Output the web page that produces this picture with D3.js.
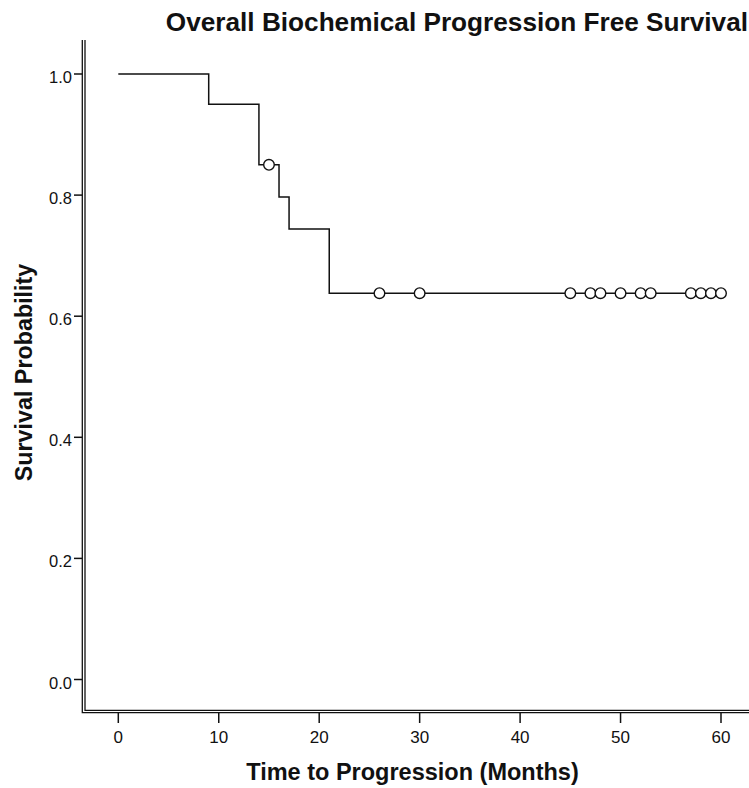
<!DOCTYPE html>
<html>
<head>
<meta charset="utf-8">
<script src="https://cdn.jsdelivr.net/npm/d3@7"></script>
<style>
  body { margin: 0; background: #fff; }
  svg { display: block; font-family: "Liberation Sans", Arial, sans-serif; }
</style>
</head>
<body>
<div id="chart"></div>
<script>
// Kaplan-Meier steps
const stepTimes = [0, 9, 14, 16, 17, 21];
const stepSurv = [1.0, 0.95, 0.85, 0.797, 0.744, 0.638];
const lastTime = 60;
// censored observations (months)
const censorTimes = [15, 26, 30, 45, 47, 48, 50, 52, 53, 57, 58, 59, 60];
const xTicks = [0, 10, 20, 30, 40, 50, 60];
const yTicks = [0.0, 0.2, 0.4, 0.6, 0.8, 1.0];

const width = 749, height = 788;

const svg = d3.select("#chart").append("svg")
    .attr("width", width)
    .attr("height", height);

const x = d3.scaleLinear().domain([0, 60]).range([118.3, 721]);
const y = d3.scaleLinear().domain([0, 1]).range([679.5, 74]);

// survival value at time t (step function)
function survAt(t) {
    const i = d3.bisectRight(stepTimes, t) - 1;
    return stepSurv[Math.max(0, i)];
}

/*----------------------
AXIS FRAME (double lines)
----------------------*/
const frame = svg.append("g").attr("stroke", "#111").attr("stroke-width", 1.3).attr("fill", "none");
frame.append("path").attr("d", "M82.3,40V712.7H749");
frame.append("path").attr("d", "M85,40V710.4H749");

// y ticks
const yAxis = svg.append("g");
yAxis.selectAll("line")
    .data(yTicks)
    .enter()
    .append("line")
    .attr("x1", 74).attr("x2", 82.3)
    .attr("y1", d => y(d)).attr("y2", d => y(d))
    .attr("stroke", "#111").attr("stroke-width", 1.5);
yAxis.selectAll("text")
    .data(yTicks)
    .enter()
    .append("text")
    .attr("x", 72)
    .attr("y", d => y(d) + 9)
    .attr("text-anchor", "end")
    .attr("font-size", 16.5)
    .attr("fill", "#111")
    .text(d => d.toFixed(1));

// x ticks
const xAxis = svg.append("g");
xAxis.selectAll("line")
    .data(xTicks)
    .enter()
    .append("line")
    .attr("x1", d => x(d)).attr("x2", d => x(d))
    .attr("y1", 712.7).attr("y2", 723)
    .attr("stroke", "#111").attr("stroke-width", 1.5);
xAxis.selectAll("text")
    .data(xTicks)
    .enter()
    .append("text")
    .attr("x", d => x(d))
    .attr("y", 742.5)
    .attr("text-anchor", "middle")
    .attr("font-size", 17)
    .attr("fill", "#111")
    .text(d => d);

/*----------------------
SURVIVAL CURVE
----------------------*/
const pts = stepTimes.map((t, i) => [t, stepSurv[i]]);
pts.push([lastTime, stepSurv[stepSurv.length - 1]]);

const line = d3.line()
    .x(d => x(d[0]))
    .y(d => y(d[1]))
    .curve(d3.curveStepAfter);

svg.append("path")
    .datum(pts)
    .attr("d", line)
    .attr("fill", "none")
    .attr("stroke", "#111")
    .attr("stroke-width", 1.5);

// censor marks
svg.append("g")
    .selectAll("circle")
    .data(censorTimes)
    .enter()
    .append("circle")
    .attr("cx", d => x(d))
    .attr("cy", d => y(survAt(d)))
    .attr("r", 5.3)
    .attr("fill", "#fff")
    .attr("stroke", "#111")
    .attr("stroke-width", 1.4);

/*----------------------
TITLES
----------------------*/
svg.append("text")
    .attr("x", 748)
    .attr("y", 31)
    .attr("text-anchor", "end")
    .attr("font-size", 26.2)
    .attr("font-weight", "bold")
    .attr("fill", "#111")
    .text("Overall Biochemical Progression Free Survival");

svg.append("text")
    .attr("x", 412.5)
    .attr("y", 780)
    .attr("text-anchor", "middle")
    .attr("font-size", 23.5)
    .attr("font-weight", "bold")
    .attr("fill", "#111")
    .text("Time to Progression (Months)");

svg.append("text")
    .attr("transform", "translate(31.5,372.5) rotate(-90)")
    .attr("text-anchor", "middle")
    .attr("font-size", 23.3)
    .attr("font-weight", "bold")
    .attr("fill", "#111")
    .text("Survival Probability");
</script>
</body>
</html>
